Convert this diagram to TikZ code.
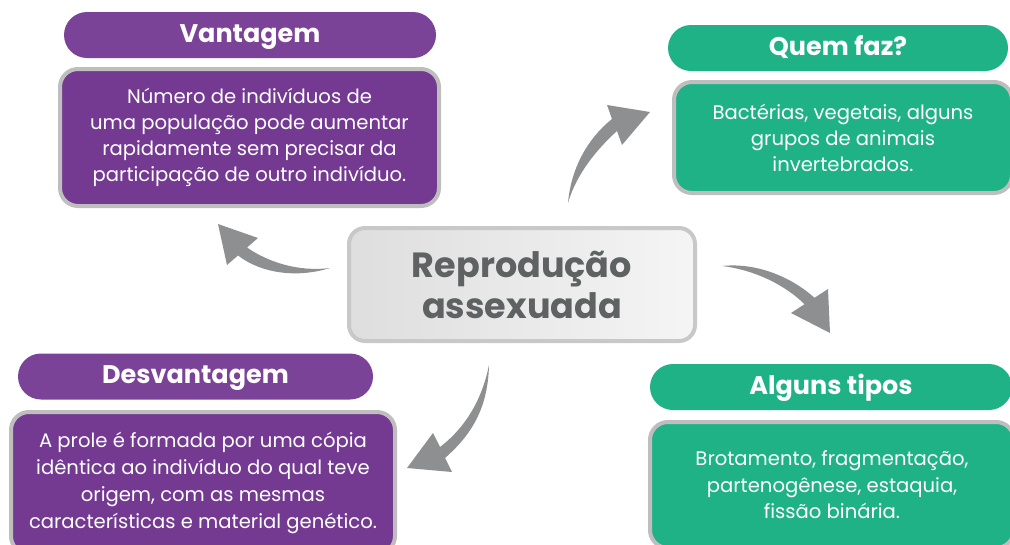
\documentclass[tikz,border=0pt]{standalone}
\usepackage{fontspec}
\setmainfont{Poppins}
\definecolor{purp}{HTML}{7B4397}
\definecolor{purpb}{HTML}{743A92}
\definecolor{grn}{HTML}{1FB287}
\definecolor{bord}{HTML}{BEBEBE}
\definecolor{arr}{HTML}{8E8F90}
\definecolor{ctext}{HTML}{5E6262}
\begin{document}
\begin{tikzpicture}[x=1pt,y=-1pt,
  header/.style={fill=#1, text=white, rounded corners=23pt, font=\fontsize{25.5}{30}\selectfont\bfseries, inner sep=0pt, minimum height=46pt, text height=14pt, text depth=0pt},
  bodybox/.style={fill=#1, draw=bord, line width=4pt, rounded corners=18pt, text=white, font=\fontsize{19.6}{26}\selectfont, align=center, inner sep=0pt},
  arrowshape/.style={fill=arr, draw=none}]
\useasboundingbox (0,0) rectangle (1010,544);
\clip (0,0) rectangle (1010,544);

% Vantagem
\node[header=purp, minimum width=372pt] (vh) at (250,35) {Vantagem};
\node[bodybox=purpb, minimum width=379pt, minimum height=137pt] (vb) at (249.5,137.5)
  {Número de indivíduos de\\ uma população pode aumentar\\ rapidamente sem precisar da\\ participação de outro indivíduo.};

% Quem faz
\node[header=grn, minimum width=340pt] (qh) at (838,48) {Quem faz?};
\node[bodybox=grn, minimum width=338pt, minimum height=111pt] (qb) at (843,137.5)
  {Bactérias, vegetais, alguns\\ grupos de animais\\ invertebrados.};

% Center
\node[draw=bord!85, line width=4pt, rounded corners=16pt, left color=black!13, right color=black!4,
      minimum width=346pt, minimum height=113pt, text=ctext, align=center, inner sep=0pt,
      font=\fontsize{35}{41}\selectfont\bfseries] (c) at (522,284.5) {Reprodução\\ assexuada};

% Desvantagem
\node[header=purp, minimum width=355pt] (dh) at (195.5,376.5) {Desvantagem};
\node[bodybox=purpb, minimum width=384pt, minimum height=142pt, font=\fontsize{19.6}{27}\selectfont] (db) at (203,483)
  {A prole é formada por uma cópia\\ idêntica ao indivíduo do qual teve\\ origem, com as mesmas\\ características e material genético.};

% Alguns tipos
\node[header=grn, minimum width=362pt] (ah) at (831,387) {Alguns tipos};
\node[bodybox=grn, minimum width=364pt, minimum height=126pt, font=\fontsize{19.6}{26.5}\selectfont] (ab) at (832,485)
  {Brotamento, fragmentação,\\ partenogênese, estaquia,\\ fissão binária.};

% Arrows
\fill[arrowshape] (568,203) .. controls (571,168) and (588,138) .. (612,119) -- (607,105) -- (650,112) -- (622,145) -- (617,131) .. controls (596,150) and (576,175) .. (568,203) -- cycle;
\fill[arrowshape] (330,268) .. controls (298,272) and (268,262) .. (247,247.5) -- (258,238) -- (218,224) -- (227,265) -- (238,255.5) .. controls (262,274) and (298,278) .. (330,268) -- cycle;
\fill[arrowshape] (722,266) .. controls (760,262) and (795,280) .. (814.5,297.8) -- (828,289) -- (830,333) -- (791,313) -- (804.5,304.2) .. controls (785,285) and (755,270) .. (722,266) -- cycle;
\fill[arrowshape] (489,365) .. controls (488,410) and (470,436) .. (445,458) -- (452,472) -- (407,468) -- (433,433) -- (440,447) .. controls (465,428) and (482,400) .. (489,365) -- cycle;
\end{tikzpicture}
\end{document}
